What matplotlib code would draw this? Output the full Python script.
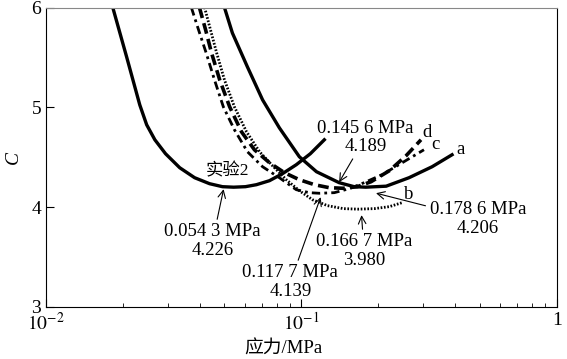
import numpy as np
import matplotlib.pyplot as plt
from matplotlib.ticker import FixedLocator, FixedFormatter

plt.rcParams['font.family'] = ['Liberation Serif', 'Noto Sans CJK SC']
plt.rcParams['mathtext.fontset'] = 'stix'

# Curve data (stress in MPa, C)
exp2_x = [0.01827, 0.0207, 0.0233, 0.0248, 0.0267, 0.0294, 0.0334, 0.0382, 0.0437, 0.0491, 0.0543,
          0.0604, 0.0667, 0.0750, 0.0843, 0.0955, 0.1084, 0.1230]
exp2_y = [6.00, 5.505, 5.025, 4.825, 4.675, 4.535, 4.395, 4.295, 4.235, 4.205, 4.20,
          4.205, 4.225, 4.265, 4.335, 4.425, 4.535, 4.675]

a_x = [0.0500, 0.0537, 0.0615, 0.0705, 0.0820, 0.0982, 0.1146, 0.1406, 0.1610, 0.1786,
       0.2148, 0.2640, 0.3250, 0.3890]
a_y = [6.00, 5.745, 5.405, 5.075, 4.795, 4.505, 4.355, 4.245, 4.205, 4.20,
       4.21, 4.295, 4.405, 4.525]

b_x = [0.0418, 0.0441, 0.0466, 0.0500, 0.0547, 0.0610, 0.0686, 0.0771, 0.0873, 0.0982,
       0.1104, 0.1265, 0.1460, 0.1667, 0.1930, 0.2210, 0.2480]
b_y = [6.00, 5.775, 5.545, 5.275, 5.005, 4.755, 4.555, 4.415, 4.275, 4.165,
       4.075, 4.015, 3.985, 3.98, 3.985, 4.005, 4.045]

c_x = [0.0371, 0.0396, 0.0424, 0.0457, 0.0495, 0.0547, 0.0615, 0.0705, 0.0820, 0.0955,
       0.1074, 0.1177, 0.1346, 0.1540, 0.1760, 0.2070, 0.2520, 0.3020]
c_y = [6.00, 5.775, 5.545, 5.275, 5.005, 4.775, 4.555, 4.405, 4.295, 4.175,
       4.145, 4.139, 4.145, 4.185, 4.245, 4.325, 4.455, 4.575]

d_x = [0.0399, 0.0422, 0.0445, 0.0479, 0.0524, 0.0583, 0.0655, 0.0750, 0.0859, 0.0982,
       0.1125, 0.1285, 0.1456, 0.1656, 0.1875, 0.2210, 0.2570, 0.2940]
d_y = [6.00, 5.775, 5.545, 5.275, 5.005, 4.755, 4.575, 4.445, 4.345, 4.275,
       4.225, 4.195, 4.189, 4.205, 4.255, 4.365, 4.515, 4.675]

fig = plt.figure(figsize=(5.67, 3.59), dpi=100)
ax = fig.add_axes([0.081, 0.145, 0.901, 0.834])

ax.plot(exp2_x, exp2_y, color='black', lw=2.4, ls='-')
ax.plot(a_x, a_y, color='black', lw=2.4, ls='-')
ax.plot(b_x, b_y, color='black', lw=2.0, ls=(0, (0.6, 0.6)))
ax.plot(c_x, c_y, color='black', lw=2.0, ls=(0, (3, 1.5, 1, 1.5)))
ax.plot(d_x, d_y, color='black', lw=2.6, ls=(0, (3, 1.5)))

ax.set_xscale('log')
ax.set_xlim(0.01, 1)
ax.set_ylim(3, 6)
ax.set_yticks([3, 4, 5, 6])
ax.xaxis.set_major_locator(FixedLocator([0.01, 0.1, 1]))
ax.xaxis.set_major_formatter(FixedFormatter([r'$10^{-2}$', r'$10^{-1}$', '1']))
ax.tick_params(which='both', direction='in', labelsize=14)
ax.tick_params(which='major', length=6)
ax.tick_params(which='minor', length=3)
ax.spines['top'].set_color('#888888')

ax.set_xlabel('应力/MPa', fontsize=13.5)
ax.xaxis.set_label_coords(0.464, -0.112)
ax.set_ylabel('C', fontsize=14, style='italic', labelpad=7)

fs = 13.5
arrow = dict(arrowstyle='->', color='black', lw=0.8, shrinkA=1, shrinkB=0)
ax.text(0.0514, 4.36, '实验2', fontsize=fs - 1, ha='center', va='center')
ax.annotate('0.054 3 MPa\n4.226', xy=(0.0496, 4.18), xytext=(0.0449, 3.66),
            fontsize=fs, ha='center', va='center', linespacing=1.1, arrowprops=arrow)
ax.annotate('0.145 6 MPa\n4.189', xy=(0.1406, 4.25), xytext=(0.178, 4.70),
            fontsize=fs, ha='center', va='center', linespacing=1.1, arrowprops=arrow)
ax.annotate('0.178 6 MPa\n4.206', xy=(0.196, 4.14), xytext=(0.491, 3.88),
            fontsize=fs, ha='center', va='center', linespacing=1.1, arrowprops=arrow)
ax.annotate('0.166 7 MPa\n3.980', xy=(0.172, 3.92), xytext=(0.176, 3.56),
            fontsize=fs, ha='center', va='center', linespacing=1.1, arrowprops=arrow)
ax.annotate('0.117 7 MPa\n4.139', xy=(0.119, 4.10), xytext=(0.0906, 3.25),
            fontsize=fs, ha='center', va='center', linespacing=1.1, arrowprops=arrow)

ax.text(0.421, 4.58, 'a', fontsize=fs, ha='center', va='center')
ax.text(0.264, 4.13, 'b', fontsize=fs, ha='center', va='center')
ax.text(0.336, 4.63, 'c', fontsize=fs, ha='center', va='center')
ax.text(0.310, 4.75, 'd', fontsize=fs, ha='center', va='center')

fig.savefig('out.png', dpi=100)
